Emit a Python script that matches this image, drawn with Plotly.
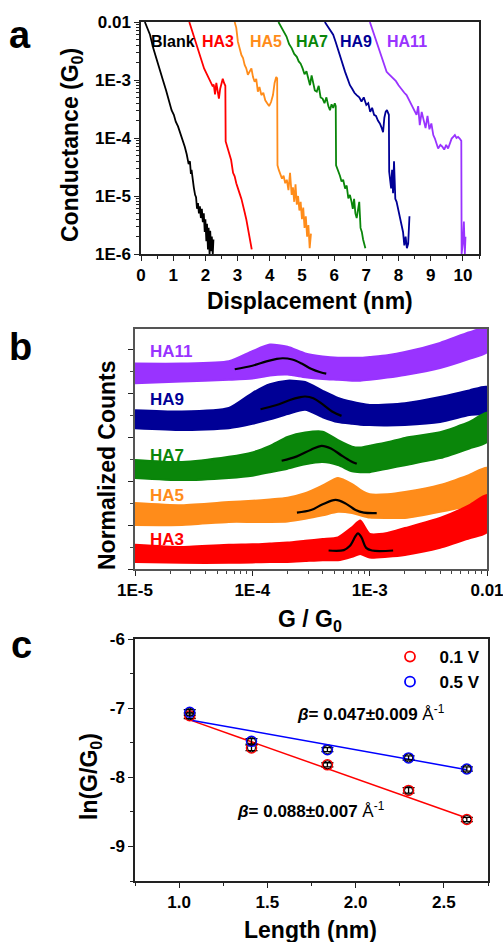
import numpy as np
import plotly.graph_objects as go

W, H = 503, 942
FONT = "Liberation Sans, Arial, sans-serif"

# ---------------- Panel a: conductance traces (x in nm, log10 G/G0) ----------------
blank_x = [0.12,0.20,0.28,0.38,0.48,0.58,0.68,0.78,0.88,0.95,1.02,1.08,1.15,1.22,1.30,1.36,1.42,1.48,1.52,1.55,1.57,1.60,1.64,1.68,1.71,1.74,1.77,1.80,1.83,1.86,1.89,1.92,1.95,1.98,2.00,2.03,2.05,2.08,2.10,2.13,2.15,2.18,2.20,2.23,2.25]
blank_logG = [-2.00,-2.10,-2.22,-2.45,-2.62,-2.80,-3.00,-3.18,-3.38,-3.52,-3.60,-3.72,-3.80,-3.92,-4.02,-4.15,-4.28,-4.45,-4.40,-4.62,-4.55,-4.72,-4.85,-4.98,-5.02,-5.22,-5.12,-5.30,-5.18,-5.38,-5.22,-5.45,-5.30,-5.62,-5.40,-5.78,-5.48,-5.92,-5.55,-6.00,-5.60,-5.95,-5.70,-6.00,-5.75]

ha3_x = [1.50,1.60,1.72,1.80,1.88,1.96,2.03,2.10,2.16,2.22,2.26,2.30,2.34,2.38,2.42,2.46,2.50,2.54,2.58,2.62,2.63,2.66,2.70,2.75,2.80,2.86,2.91,2.96,3.01,3.06,3.12,3.17,3.22,3.27,3.32,3.36,3.40,3.44]
ha3_logG = [-2.00,-2.18,-2.40,-2.55,-2.68,-2.80,-2.88,-2.96,-3.02,-3.10,-3.08,-3.25,-3.05,-3.22,-3.32,-3.15,-3.05,-2.98,-3.05,-3.10,-4.06,-4.12,-4.20,-4.30,-4.38,-4.60,-4.66,-4.78,-4.88,-4.95,-5.05,-5.20,-5.28,-5.40,-5.55,-5.65,-5.80,-5.92]

ha5_x = [2.91,2.96,3.01,3.06,3.12,3.17,3.22,3.27,3.32,3.38,3.43,3.48,3.53,3.58,3.63,3.68,3.74,3.80,3.86,3.92,3.98,4.04,4.10,4.15,4.20,4.23,4.24,4.28,4.33,4.38,4.43,4.48,4.53,4.58,4.63,4.68,4.72,4.76,4.80,4.84,4.88,4.92,4.96,5.00,5.04,5.08,5.12,5.16,5.20,5.24,5.28]
ha5_logG = [-2.00,-2.10,-2.34,-2.45,-2.57,-2.62,-2.74,-2.80,-2.91,-2.85,-2.80,-2.95,-3.03,-2.98,-3.20,-3.12,-3.26,-3.22,-3.35,-3.40,-3.45,-3.38,-3.26,-3.05,-2.95,-2.97,-4.47,-4.55,-4.62,-4.70,-4.65,-4.78,-4.72,-4.90,-4.60,-4.98,-4.85,-5.10,-4.80,-5.15,-5.00,-5.25,-5.10,-5.40,-5.20,-5.55,-5.35,-5.70,-5.50,-5.90,-5.65]

ha7_x = [4.27,4.35,4.45,4.52,4.60,4.68,4.76,4.84,4.90,4.96,5.02,5.08,5.14,5.20,5.25,5.30,5.35,5.40,5.46,5.52,5.58,5.64,5.70,5.76,5.82,5.87,5.92,5.97,6.02,6.05,6.06,6.10,6.14,6.18,6.23,6.28,6.34,6.39,6.44,6.49,6.54,6.58,6.62,6.66,6.70,6.74,6.78,6.82,6.86,6.90,6.94,6.97]
ha7_logG = [-2.00,-2.08,-2.20,-2.25,-2.38,-2.45,-2.55,-2.60,-2.68,-2.72,-2.80,-2.90,-2.85,-2.97,-3.09,-2.92,-3.05,-3.18,-3.20,-3.10,-3.30,-3.32,-3.40,-3.30,-3.45,-3.52,-3.42,-3.48,-3.40,-3.45,-4.47,-4.52,-4.58,-4.65,-4.75,-4.72,-4.87,-4.82,-5.04,-4.98,-5.10,-5.22,-5.05,-5.30,-5.38,-5.25,-5.10,-5.55,-5.62,-5.75,-5.85,-5.90]

ha9_x = [5.71,5.80,5.90,5.97,6.05,6.12,6.18,6.26,6.34,6.42,6.49,6.56,6.63,6.70,6.78,6.85,6.92,7.00,7.06,7.12,7.18,7.24,7.30,7.36,7.42,7.48,7.52,7.56,7.60,7.64,7.68,7.70,7.71,7.74,7.77,7.80,7.83,7.86,7.90,7.94,7.98,8.02,8.06,8.10,8.14,8.18,8.22,8.26,8.30,8.34]
ha9_logG = [-2.00,-2.08,-2.15,-2.22,-2.35,-2.48,-2.57,-2.70,-2.86,-2.98,-3.09,-3.15,-3.22,-3.26,-3.30,-3.37,-3.30,-3.43,-3.40,-3.55,-3.48,-3.60,-3.62,-3.70,-3.75,-3.83,-3.90,-3.65,-3.55,-3.52,-3.58,-3.60,-4.58,-4.75,-4.87,-4.55,-4.95,-4.40,-5.05,-5.10,-5.20,-5.30,-5.40,-5.50,-5.62,-5.85,-5.70,-5.90,-5.82,-5.35]

ha11_x = [7.11,7.20,7.32,7.40,7.48,7.56,7.63,7.70,7.78,7.84,7.92,8.00,8.04,8.10,8.18,8.25,8.33,8.41,8.48,8.56,8.61,8.66,8.72,8.78,8.84,8.90,8.96,9.02,9.08,9.13,9.18,9.23,9.30,9.36,9.42,9.48,9.54,9.60,9.65,9.70,9.75,9.80,9.85,9.90,9.95,9.96,10.00,10.03,10.06,10.08]
ha11_logG = [-2.00,-2.15,-2.34,-2.50,-2.63,-2.75,-2.86,-2.90,-2.95,-2.97,-3.02,-3.09,-3.12,-3.18,-3.22,-3.26,-3.35,-3.43,-3.52,-3.60,-3.45,-3.78,-3.55,-3.70,-3.83,-3.62,-3.85,-3.75,-3.95,-4.01,-4.10,-4.18,-4.12,-4.15,-4.20,-4.12,-4.18,-4.08,-4.01,-3.98,-3.95,-4.00,-3.98,-4.01,-4.05,-6.00,-5.80,-5.44,-6.00,-5.70]

trace_names = ["Blank", "HA3", "HA5", "HA7", "HA9", "HA11"]
trace_label_x = [0.99, 2.39, 3.88, 5.31, 6.68, 8.26]
a_tickvals = [1e-6, 1e-5, 1e-4, 1e-3, 1e-2]
a_ticktext = ["1E-6", "1E-5", "1E-4", "1E-3", "0.01"]

# ---------------- Panel b: histogram bands (log10 G/G0 grid, normalized counts envelope) ----------------
band_logx = [-5.0,-4.6,-4.2,-4.0,-3.85,-3.7,-3.55,-3.4,-3.27,-3.15,-3.08,-3.0,-2.85,-2.7,-2.4,-2.15,-2.0]
ha11_up = [4.67,4.67,4.72,4.95,5.10,5.05,4.90,4.83,4.80,4.80,4.80,4.82,4.86,4.93,5.14,5.38,5.48]
ha11_lo = [4.22,4.26,4.30,4.33,4.40,4.42,4.36,4.32,4.30,4.28,4.28,4.30,4.35,4.41,4.57,4.78,4.93]
ha9_up  = [3.61,3.58,3.66,4.00,4.20,4.28,4.25,4.05,3.89,3.80,3.76,3.73,3.74,3.77,3.91,4.06,4.14]
ha9_lo  = [3.20,3.16,3.20,3.30,3.40,3.52,3.62,3.45,3.34,3.30,3.28,3.27,3.26,3.27,3.34,3.50,3.55]
ha7_up  = [2.48,2.43,2.55,2.65,2.80,3.00,3.10,3.12,2.93,2.78,2.76,2.80,2.88,2.98,3.11,3.34,3.55]
ha7_lo  = [2.07,2.02,2.07,2.12,2.20,2.28,2.38,2.43,2.36,2.22,2.20,2.20,2.28,2.36,2.52,2.74,2.89]
ha5_up  = [1.50,1.45,1.52,1.55,1.58,1.62,1.72,1.90,2.07,1.93,1.80,1.70,1.70,1.75,1.91,2.14,2.30]
ha5_lo  = [1.00,1.00,1.07,1.07,1.07,1.08,1.14,1.22,1.30,1.27,1.22,1.17,1.16,1.16,1.30,1.45,1.61]
ha3_up  = [0.55,0.50,0.55,0.56,0.58,0.60,0.64,0.68,0.72,0.95,1.10,0.80,0.82,0.93,1.16,1.45,1.68]
ha3_lo  = [0.16,0.14,0.14,0.15,0.16,0.16,0.18,0.20,0.20,0.28,0.34,0.26,0.28,0.32,0.48,0.70,0.84]

# Gaussian fits (log10 G, counts)
fit11_lx = [-4.15,-4.0,-3.88,-3.80,-3.74,-3.66,-3.58,-3.50,-3.42,-3.37]
fit11_y  = [4.54,4.62,4.72,4.77,4.79,4.76,4.67,4.55,4.47,4.44]
fit9_lx  = [-3.93,-3.80,-3.68,-3.60,-3.55,-3.48,-3.40,-3.32,-3.24]
fit9_y   = [3.63,3.72,3.84,3.90,3.92,3.88,3.74,3.58,3.48]
fit7_lx  = [-3.75,-3.62,-3.50,-3.41,-3.33,-3.24,-3.16,-3.11]
fit7_y   = [2.46,2.56,2.71,2.80,2.74,2.58,2.45,2.39]
fit5_lx  = [-3.62,-3.50,-3.40,-3.29,-3.20,-3.12,-3.05,-2.94]
fit5_y   = [1.28,1.34,1.47,1.57,1.48,1.34,1.28,1.27]
fit3_lx  = [-3.35,-3.22,-3.17,-3.12,-3.10,-3.07,-3.03,-2.98,-2.80]
fit3_y   = [0.42,0.43,0.52,0.75,0.81,0.72,0.48,0.42,0.42]

b_names = ["HA11", "HA9", "HA7", "HA5", "HA3"]
b_label_y = [4.95, 3.86, 2.57, 1.68, 0.68]

# ---------------- Panel c: ln(G/G0) vs length ----------------
length_nm = [1.06, 1.41, 1.84, 2.30, 2.63]
lnG_01V = [-7.11, -7.575, -7.82, -8.19, -8.61]
lnG_05V = [-7.06, -7.48, -7.60, -7.72, -7.88]
err_01V = [0.04, 0.04, 0.03, 0.04, 0.03]
err_05V = [0.04, 0.04, 0.03, 0.03, 0.03]
fit_x = [1.06, 2.63]
fit_01V = [-7.17, -8.59]
fit_05V = [-7.17, -7.89]
series_names = ["0.1 V", "0.5 V"]

COL = {"Blank": "#000000", "HA3": "#FF0000", "HA5": "#FF8C1A", "HA7": "#0A860A",
       "HA9": "#000096", "HA11": "#9933FF"}

fig = go.Figure()

# panel a traces
a_data = [(blank_x, blank_logG), (ha3_x, ha3_logG), (ha5_x, ha5_logG),
          (ha7_x, ha7_logG), (ha9_x, ha9_logG), (ha11_x, ha11_logG)]
for name, (xs, lg) in zip(trace_names, a_data):
    fig.add_trace(go.Scatter(x=xs, y=10 ** np.array(lg), mode="lines",
                             line=dict(color=COL[name], width=1.8),
                             xaxis="x", yaxis="y", showlegend=False))

# panel b bands
bands = [("HA11", ha11_up, ha11_lo), ("HA9", ha9_up, ha9_lo), ("HA7", ha7_up, ha7_lo),
         ("HA5", ha5_up, ha5_lo), ("HA3", ha3_up, ha3_lo)]
bx = 10 ** np.array(band_logx)
for name, up, lo in bands:
    xs = list(bx) + list(bx[::-1])
    ys = list(up) + list(lo[::-1])
    fig.add_trace(go.Scatter(x=xs, y=ys, mode="lines", fill="toself",
                             fillcolor=COL[name], line=dict(color=COL[name], width=2, shape="spline", smoothing=0.6),
                             xaxis="x2", yaxis="y2", showlegend=False))
fits = [(fit11_lx, fit11_y), (fit9_lx, fit9_y), (fit7_lx, fit7_y), (fit5_lx, fit5_y), (fit3_lx, fit3_y)]
for lx, fy in fits:
    fig.add_trace(go.Scatter(x=10 ** np.array(lx), y=fy, mode="lines", line=dict(color="black", width=2.2, shape="spline"),
                             xaxis="x2", yaxis="y2", showlegend=False))

# panel c
fig.add_trace(go.Scatter(x=fit_x, y=fit_01V, mode="lines", line=dict(color="#FF0000", width=1.5),
                         xaxis="x3", yaxis="y3", showlegend=False))
fig.add_trace(go.Scatter(x=fit_x, y=fit_05V, mode="lines", line=dict(color="#0000FF", width=1.5),
                         xaxis="x3", yaxis="y3", showlegend=False))
for ys, es, col, nm in [(lnG_01V, err_01V, "#FF0000", series_names[0]), (lnG_05V, err_05V, "#0000FF", series_names[1])]:
    fig.add_trace(go.Scatter(x=length_nm, y=ys, mode="markers",
                             marker=dict(symbol="circle-open", size=10, color=col, line=dict(width=1.5)),
                             error_y=dict(type="data", array=es, color="black", thickness=1.3, width=6),
                             xaxis="x3", yaxis="y3", showlegend=False))
    fig.add_trace(go.Scatter(x=length_nm, y=ys, mode="markers",
                             marker=dict(symbol="circle-open", size=8, color="black", line=dict(width=1)),
                             xaxis="x3", yaxis="y3", showlegend=False))
    fig.add_trace(go.Scatter(x=[None], y=[None], mode="markers", name="\u00a0\u00a0" + nm,
                             marker=dict(symbol="circle-open", size=10, color=col, line=dict(width=1.8)),
                             xaxis="x3", yaxis="y3", showlegend=True))

tickfont = dict(family=FONT, size=17, color="black", weight="bold")
axline = dict(showline=True, linecolor="#222", linewidth=1.5, mirror=True, ticks="outside",
              tickcolor="#222", tickwidth=1.3, ticklen=5, showgrid=False, zeroline=False,
              tickfont=tickfont, automargin=False, ticklabeloverflow="allow")

def dom_x(l, r):
    return [l / W, r / W]

def dom_y(b, t):
    return [1 - b / H, 1 - t / H]

a_minor = [k * 10.0 ** e for e in range(-6, -2) for k in range(2, 10)]
b_minor = [k * 10.0 ** e for e in range(-5, -2) for k in range(2, 10)]

fig.update_layout(
    width=W, height=H, margin=dict(l=0, r=0, t=0, b=0, autoexpand=False),
    paper_bgcolor="white", plot_bgcolor="white",
    font=dict(family=FONT, color="black"),
    xaxis=dict(domain=dom_x(141, 479), anchor="y", range=[0, 10.5], dtick=1, tick0=0,
               minor=dict(dtick=0.5, ticks="outside", ticklen=3, tickcolor="#222"), **axline),
    yaxis=dict(domain=dom_y(254, 22), anchor="x", type="log", range=[-6, -2],
               tickmode="array", tickvals=a_tickvals, ticktext=a_ticktext,
               minor=dict(tickmode="array", tickvals=a_minor, ticks="outside", ticklen=3, tickcolor="#222"), **axline),
    xaxis2=dict(domain=dom_x(135, 487), anchor="y2", type="log", range=[-5, -2],
                tickmode="array", tickvals=[1e-5, 1e-4, 1e-3, 1e-2], ticktext=["1E-5", "1E-4", "1E-3", "0.01"],
                minor=dict(tickmode="array", tickvals=b_minor, ticks="outside", ticklen=3, tickcolor="#444"),
                **{**axline, "linecolor": "#555"}),
    yaxis2=dict(domain=dom_y(569, 329), anchor="x2", range=[0, 5.4545],
                tickmode="array", tickvals=[0, 1, 2, 3, 4, 5], showticklabels=False,
                minor=dict(dtick=0.5, tick0=0, ticks="outside", ticklen=3, tickcolor="#444"),
                **{**axline, "linecolor": "#555"}),
    xaxis3=dict(domain=dom_x(135, 488), anchor="y3", range=[0.75, 2.75],
                tickmode="array", tickvals=[1.0, 1.5, 2.0, 2.5], ticktext=["1.0", "1.5", "2.0", "2.5"],
                minor=dict(dtick=0.25, tick0=0.75, ticks="outside", ticklen=3, tickcolor="#222"), **axline),
    yaxis3=dict(domain=dom_y(881, 639), anchor="x3", range=[-9.5, -6],
                tickmode="array", tickvals=[-9, -8, -7, -6], ticktext=["-9", "-8", "-7", "-6"],
                minor=dict(dtick=0.5, tick0=-9.5, ticks="outside", ticklen=3, tickcolor="#222"), **axline),
    legend=dict(x=390 / W, y=1 - 639 / H, xanchor="left", yanchor="top", bgcolor="rgba(0,0,0,0)",
                font=dict(family=FONT, size=17, weight="bold"), tracegroupgap=0, itemwidth=30),
)

ann = []
bold = dict(family=FONT, color="black", weight="bold")
# panel letters
for txt, x, y in [("a", 20, 35), ("b", 20, 347), ("c", 21, 645)]:
    ann.append(dict(text=txt, x=x / W, y=1 - y / H, xref="paper", yref="paper", showarrow=False,
                    font=dict(**bold, size=38), xanchor="center", yanchor="middle"))
# axis titles
titles = [
    dict(text="Conductance (G<sub>0</sub>)", x=72 / W, y=1 - 145 / H, textangle=-90),
    dict(text="Displacement (nm)", x=310 / W, y=1 - 301 / H),
    dict(text="Normalized Counts", x=107 / W, y=1 - 465 / H, textangle=-90),
    dict(text="G / G<sub>0</sub>", x=310 / W, y=1 - 620 / H),
    dict(text="ln(G/G<sub>0</sub>)", x=90 / W, y=1 - 777 / H, textangle=-90),
    dict(text="Length (nm)", x=310 / W, y=1 - 930 / H),
]
for a in titles:
    a.update(xref="paper", yref="paper", showarrow=False, font=dict(**bold, size=23),
             xanchor="center", yanchor="middle")
ann += titles
# panel a trace labels
for name, lx in zip(trace_names, trace_label_x):
    ann.append(dict(text=name, x=lx, y=-2.34, xref="x", yref="y", showarrow=False,
                    font=dict(family=FONT, size=16, color=COL[name], weight="bold"),
                    xanchor="center", yanchor="middle"))
# panel b labels
for name, ly in zip(b_names, b_label_y):
    ann.append(dict(text=name, x=148 / W, y=ly, xref="paper", yref="y2", showarrow=False,
                    font=dict(family=FONT, size=17, color=COL[name], weight="bold"),
                    xanchor="left", yanchor="middle"))
# panel c beta labels
ann.append(dict(text="<b><i>β</i>= 0.047±0.009</b> Å<sup>-1</sup>", x=2.087, y=-7.07, xref="x3", yref="y3",
                showarrow=False, font=dict(family=FONT, size=17, color="black"), xanchor="center", yanchor="middle"))
ann.append(dict(text="<b><i>β</i>= 0.088±0.007</b> Å<sup>-1</sup>", x=1.747, y=-8.48, xref="x3", yref="y3",
                showarrow=False, font=dict(family=FONT, size=17, color="black"), xanchor="center", yanchor="middle"))
fig.update_layout(annotations=ann)

fig.write_html("out.html")
